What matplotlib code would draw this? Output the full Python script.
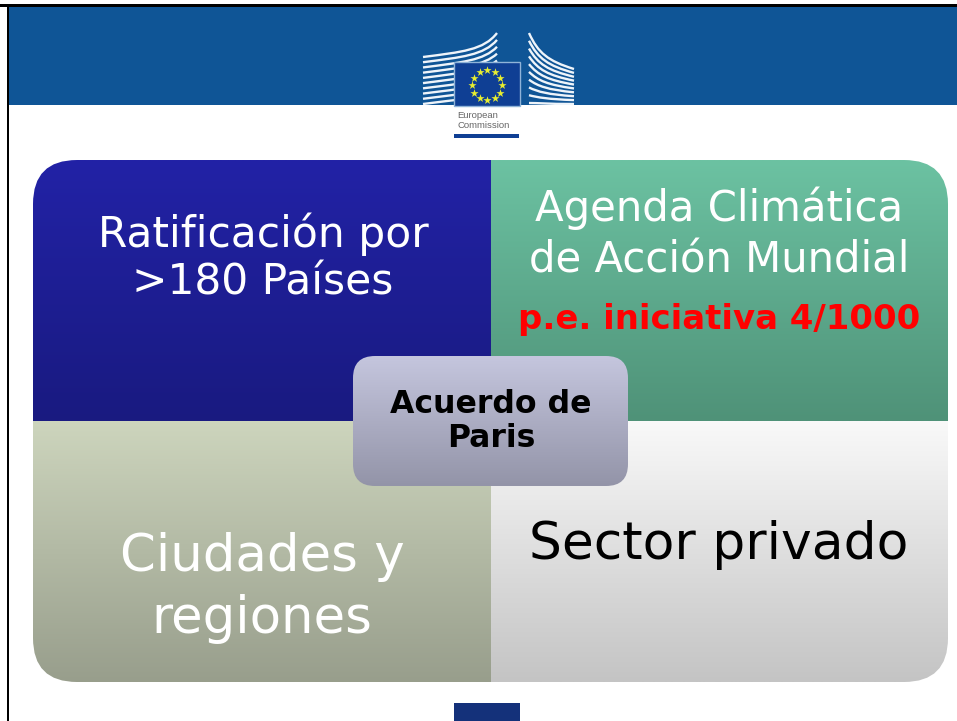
import numpy as np
import matplotlib
matplotlib.use('Agg')
import matplotlib.pyplot as plt
from matplotlib.colors import LinearSegmentedColormap
from matplotlib.patches import FancyBboxPatch, Rectangle, PathPatch
from matplotlib.path import Path

W, H = 957, 721

plt.rcParams['font.family'] = ['DejaVu Sans']

# colores de cada cuadrante: arriba, abajo
quadrant_colors = {
    'azul': ('#2222a6', '#191a80'),
    'verde': ('#6cc2a2', '#4f9278'),
    'gris': ('#cdd5bd', '#989e8c'),
    'blanco': ('#f9f9f9', '#c4c4c4'),
    'centro': ('#c5c6de', '#9394a8'),
}
header_color = '#0f5596'
flag_color = '#0f3f94'
footer_color = '#14317a'


def gradient(ax, box, colors, clip):
    cmap = LinearSegmentedColormap.from_list('g', colors)
    x0, y0, x1, y1 = box
    im = ax.imshow(np.linspace(0, 1, 256).reshape(-1, 1), cmap=cmap, aspect='auto',
                   extent=(x0, x1, y1, y0), zorder=clip.get_zorder(), interpolation='bilinear')
    im.set_clip_path(clip)


fig = plt.figure(figsize=(W / 100, H / 100), dpi=100)
ax = fig.add_axes([0, 0, 1, 1])
ax.set_xlim(0, W)
ax.set_ylim(H, 0)
ax.axis('off')

# cabecera y marco
ax.add_patch(Rectangle((8, 5), W - 8, 100, fc=header_color, ec='none', zorder=1))
ax.add_patch(Rectangle((0, 4), W, 2.5, fc='black', ec='none', zorder=5))
ax.add_patch(Rectangle((6.5, 4), 2.5, H - 4, fc='black', ec='none', zorder=5))


# logo: lineas del edificio
def curve(p0, p1, p2, p3, lw):
    path = Path([p0, p1, p2, p3], [Path.MOVETO, Path.CURVE4, Path.CURVE4, Path.CURVE4])
    ax.add_patch(PathPatch(path, fc='none', ec='#eef4fa', lw=lw, capstyle='butt', zorder=2))


for t in np.linspace(0, 1, 10):
    y_left = 57 + t * 47
    y_tip = 33 + t * 62
    curve((423, y_left), (462, y_left - 5), (484, y_left - 7), (497, y_tip), 1.7)
    y_edge = 33 + t * 70
    y_end = 69 + t * 35
    curve((529, y_edge), (538, y_edge + 20 * (1 - t)), (548, y_end - 8 * (1 - t)), (574, y_end), 1.7)
ax.add_patch(Rectangle((420, 105), 160, 10, fc='white', ec='none', zorder=3))
ax.add_patch(Rectangle((454, 62), 66, 44, fc=flag_color, ec='#8fb4d8', lw=1, zorder=4))
star_angles = np.arange(12) * np.pi / 6
ax.scatter(487 + 15 * np.sin(star_angles), 85 - 15 * np.cos(star_angles), marker='*',
           s=38, c='#e8ee30', linewidths=0, zorder=5)
ax.text(457.5, 115, 'European', fontsize=6.8, family='Liberation Sans', color='#666666',
        va='center', zorder=5)
ax.text(457.5, 126, 'Commission', fontsize=6.8, family='Liberation Sans', color='#666666',
        va='center', zorder=5)
ax.add_patch(Rectangle((454, 134), 65, 3.5, fc=flag_color, ec='none', zorder=5))

# bloque de cuatro cuadrantes, recortado con esquinas redondeadas
left, right, top, bottom = 33, 948, 160, 682
mx, my = 491, 421
outer = FancyBboxPatch((left + 44, top + 44), right - left - 88, bottom - top - 88,
                       boxstyle='round,pad=44,rounding_size=44', fc='none', ec='none', zorder=2)
ax.add_patch(outer)
gradient(ax, (left, top, mx, my), quadrant_colors['azul'], outer)
gradient(ax, (mx, top, right, my), quadrant_colors['verde'], outer)
gradient(ax, (left, my, mx, bottom), quadrant_colors['gris'], outer)
gradient(ax, (mx, my, right, bottom), quadrant_colors['blanco'], outer)

# caja central
cx0, cy0, cx1, cy1 = 353, 356, 628, 486
centre = FancyBboxPatch((cx0 + 22, cy0 + 22), cx1 - cx0 - 44, cy1 - cy0 - 44,
                        boxstyle='round,pad=22,rounding_size=22', fc='none', ec='none', zorder=6)
ax.add_patch(centre)
gradient(ax, (cx0, cy0, cx1, cy1), quadrant_colors['centro'], centre)
ax.set_xlim(0, W)
ax.set_ylim(H, 0)

# textos
ax.text(263, 258, 'Ratificación por\n>180 Países', color='white', fontsize=30.5, ha='center',
        va='center', linespacing=1.17, zorder=7)
ax.text(719, 234, 'Agenda Climática\nde Acción Mundial', color='white', fontsize=30.2, ha='center',
        va='center', linespacing=1.27, zorder=7)
ax.text(719, 319.5, 'p.e. iniciativa 4/1000', color='#ff0000', fontsize=24.4, fontweight='bold',
        ha='center', va='center', zorder=7)
ax.text(491, 421.5, 'Acuerdo de\nParis', color='black', fontsize=22.7, fontweight='bold', ha='center',
        va='center', linespacing=1.13, zorder=8)
ax.text(262, 588, 'Ciudades y\nregiones', color='white', fontsize=37, ha='center', va='center',
        linespacing=1.3, zorder=7)
ax.text(719, 545.5, 'Sector privado', color='black', fontsize=37.4, ha='center', va='center', zorder=7)

# pie
ax.add_patch(Rectangle((454, 703), 66, 18, fc=footer_color, ec='none', zorder=3))

fig.savefig('out.png', dpi=100, facecolor='white')
